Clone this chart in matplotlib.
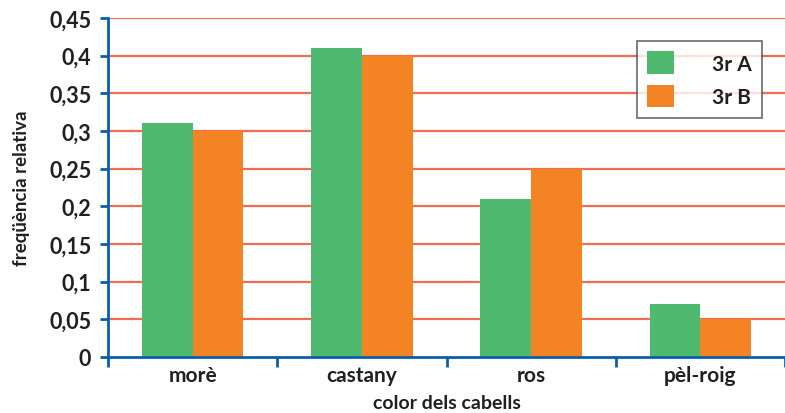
import numpy as np
import matplotlib.pyplot as plt
from matplotlib.ticker import FuncFormatter

categories = ['morè', 'castany', 'ros', 'pèl-roig']
grup_a = [0.31, 0.41, 0.21, 0.07]
grup_b = [0.30, 0.40, 0.25, 0.05]
series_names = ['3r A', '3r B']
y_ticks = [0, 0.05, 0.1, 0.15, 0.2, 0.25, 0.3, 0.35, 0.4, 0.45]

plt.rcParams['font.family'] = ['Lato', 'DejaVu Sans']

GREEN = '#4fba6f'
ORANGE = '#f48323'
BLUE = '#0b5fa8'
GRID = '#ef6d52'
TEXT = '#231f20'

fig = plt.figure(figsize=(7.85, 4.14), dpi=100)
ax = fig.add_axes([108 / 785, 1 - 358 / 414, (785 - 108) / 785, 339 / 414])

x = np.arange(len(categories))
w = 0.3
ax.bar(x - w / 2, grup_a, w, color=GREEN, label=series_names[0], zorder=3)
ax.bar(x + w / 2, grup_b, w, color=ORANGE, label=series_names[1], zorder=3)

ax.set_ylim(0, 0.45)
ax.set_xlim(-0.5, -0.5 + (785 - 108) / 171)
ax.set_yticks(y_ticks)
ax.yaxis.set_major_formatter(FuncFormatter(lambda v, p: ('%g' % v).replace('.', ',')))
for t in y_ticks[1:]:
    ax.axhline(t, color=GRID, lw=1.6, zorder=1)

# separadors de categoria a l'eix x
ax.set_xticks(np.arange(len(categories) + 1) - 0.5)
ax.set_xticklabels([])
ax.set_xticks(x, minor=True)
ax.set_xticklabels(categories, minor=True)
ax.tick_params(axis='x', which='minor', length=0, pad=6, labelsize=15)
ax.tick_params(axis='x', which='major', direction='out', length=7, width=2, color=BLUE)
ax.tick_params(axis='y', direction='out', length=6, width=2, color=BLUE, labelsize=15.5, pad=6)
for lab in ax.get_xticklabels(minor=True) + ax.get_yticklabels():
    lab.set_fontweight('bold')
    lab.set_color(TEXT)

for s in ['top', 'right']:
    ax.spines[s].set_visible(False)
for s in ['left', 'bottom']:
    ax.spines[s].set_color(BLUE)
    ax.spines[s].set_linewidth(2)
    ax.spines[s].set_zorder(4)

ax.set_ylabel('freqüència relativa', fontsize=13.5, fontweight='bold', color=TEXT, labelpad=14)
ax.set_xlabel('color dels cabells', fontsize=14, fontweight='bold', color=TEXT, labelpad=6)

leg = ax.legend(loc='upper right', bbox_to_anchor=((762 - 108) / 677, (358 - 42) / 339),
                frameon=True, fancybox=False, handlelength=1.3,
                handleheight=1.3, handletextpad=1.8, borderpad=0.5, labelspacing=0.5,
                borderaxespad=0, prop={'weight': 'bold', 'size': 15})
leg.get_frame().set_edgecolor('#444444')
leg.get_frame().set_linewidth(1.2)
leg.set_zorder(5)
for t in leg.get_texts():
    t.set_color(TEXT)

fig.savefig('out.png', dpi=100)
